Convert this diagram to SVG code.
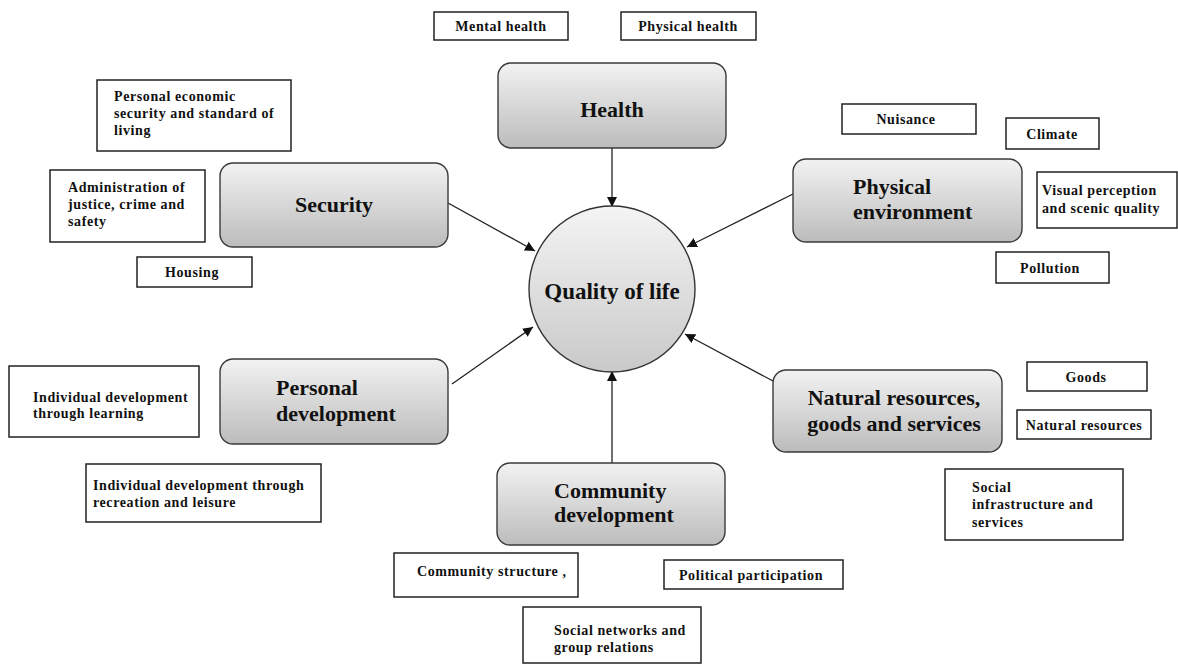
<svg xmlns="http://www.w3.org/2000/svg" width="1178" height="664" viewBox="0 0 1178 664">
<defs>
<linearGradient id="g" x1="0" y1="0" x2="0" y2="1">
<stop offset="0" stop-color="#f2f2f2"/>
<stop offset="1" stop-color="#bcbcbc"/>
</linearGradient>
<linearGradient id="gc" x1="0" y1="0" x2="0" y2="1">
<stop offset="0" stop-color="#f4f4f4"/>
<stop offset="1" stop-color="#c9c9c9"/>
</linearGradient>
<marker id="ah" viewBox="0 0 10 10" refX="10" refY="5" markerWidth="10" markerHeight="10" markerUnits="userSpaceOnUse" orient="auto">
<path d="M0,0 L10,5 L0,10 z" fill="#111"/>
</marker>
</defs>
<style>
.node{fill:url(#g);stroke:#3a3a3a;stroke-width:1.4}
.box{fill:#fff;stroke:#222;stroke-width:1.5}
.big{font-family:"Liberation Serif",serif;font-weight:bold;font-size:22px;fill:#111}
.sm{font-family:"Liberation Serif",serif;font-weight:bold;font-size:14px;letter-spacing:0.6px;fill:#111}
.c{text-anchor:middle}
.conn line{stroke:#222;stroke-width:1.3;marker-end:url(#ah)}
</style>
<rect width="1178" height="664" fill="#fff"/>

<g class="conn" id="connectors">
<line x1="612" y1="148" x2="612" y2="207"/>
<line x1="448" y1="203" x2="535" y2="251"/>
<line x1="793" y1="194" x2="687" y2="247"/>
<line x1="452" y1="384" x2="533" y2="327"/>
<line x1="773" y1="381" x2="685" y2="334"/>
<line x1="612" y1="463" x2="612" y2="371"/>
</g>

<g id="quality">
<circle cx="612" cy="289" r="83" fill="url(#gc)" stroke="#333" stroke-width="1.4"/>
<text class="big c" x="612" y="299" style="font-size:23px">Quality of life</text>
</g>

<g id="health">
<rect class="node" x="498" y="63" width="228" height="85" rx="13"/>
<text class="big c" x="612" y="117">Health</text>
</g>
<g id="mental-health">
<rect class="box" x="434" y="12" width="134" height="28"/>
<text class="sm c" x="501" y="31">Mental health</text>
</g>
<g id="physical-health">
<rect class="box" x="621" y="12" width="135" height="28"/>
<text class="sm c" x="688" y="31">Physical health</text>
</g>

<g id="security">
<rect class="node" x="220" y="163" width="228" height="84" rx="13"/>
<text class="big c" x="334" y="212">Security</text>
</g>
<g id="personal-economic">
<rect class="box" x="97" y="80" width="194" height="71"/>
<text class="sm" x="114" y="101">Personal economic</text>
<text class="sm" x="114" y="118">security and standard of</text>
<text class="sm" x="114" y="135">living</text>
</g>
<g id="administration">
<rect class="box" x="50" y="170" width="155" height="72"/>
<text class="sm" x="68" y="192">Administration of</text>
<text class="sm" x="68" y="209">justice, crime and</text>
<text class="sm" x="68" y="226">safety</text>
</g>
<g id="housing">
<rect class="box" x="137" y="257" width="115" height="30"/>
<text class="sm c" x="192" y="277">Housing</text>
</g>

<g id="physical-environment">
<rect class="node" x="793" y="159" width="229" height="83" rx="13"/>
<text class="big" x="853" y="194">Physical</text>
<text class="big" x="853" y="219">environment</text>
</g>
<g id="nuisance">
<rect class="box" x="842" y="104" width="134" height="30"/>
<text class="sm c" x="906" y="124">Nuisance</text>
</g>
<g id="climate">
<rect class="box" x="1006" y="118" width="93" height="31"/>
<text class="sm c" x="1052" y="139">Climate</text>
</g>
<g id="visual">
<rect class="box" x="1037" y="172" width="140" height="56"/>
<text class="sm" x="1042" y="195">Visual perception</text>
<text class="sm" x="1042" y="213">and scenic quality</text>
</g>
<g id="pollution">
<rect class="box" x="996" y="252" width="113" height="31"/>
<text class="sm c" x="1050" y="273">Pollution</text>
</g>

<g id="personal-development">
<rect class="node" x="220" y="359" width="228" height="85" rx="13"/>
<text class="big" x="276" y="395">Personal</text>
<text class="big" x="276" y="421">development</text>
</g>
<g id="learning">
<rect class="box" x="9" y="366" width="190" height="71"/>
<text class="sm" x="33" y="402">Individual development</text>
<text class="sm" x="33" y="418">through learning</text>
</g>
<g id="recreation">
<rect class="box" x="86" y="464" width="235" height="58"/>
<text class="sm" x="93" y="490">Individual development through</text>
<text class="sm" x="93" y="507">recreation and leisure</text>
</g>

<g id="natural-resources-node">
<rect class="node" x="773" y="370" width="229" height="82" rx="13"/>
<text class="big c" x="894" y="405">Natural resources,</text>
<text class="big c" x="894" y="431">goods and services</text>
</g>
<g id="goods">
<rect class="box" x="1027" y="362" width="120" height="29"/>
<text class="sm c" x="1086" y="382">Goods</text>
</g>
<g id="natural-resources">
<rect class="box" x="1017" y="410" width="134" height="29"/>
<text class="sm c" x="1084" y="430">Natural resources</text>
</g>
<g id="social-infrastructure">
<rect class="box" x="945" y="469" width="178" height="71"/>
<text class="sm" x="972" y="492">Social</text>
<text class="sm" x="972" y="509">infrastructure and</text>
<text class="sm" x="972" y="527">services</text>
</g>

<g id="community-development">
<rect class="node" x="497" y="463" width="228" height="82" rx="13"/>
<text class="big" x="554" y="498">Community</text>
<text class="big" x="554" y="522">development</text>
</g>
<g id="community-structure">
<rect class="box" x="394" y="553" width="184" height="44"/>
<text class="sm" x="417" y="576">Community structure ,</text>
</g>
<g id="political">
<rect class="box" x="664" y="560" width="179" height="29"/>
<text class="sm c" x="751" y="580">Political participation</text>
</g>
<g id="social-networks">
<rect class="box" x="523" y="607" width="178" height="56"/>
<text class="sm" x="554" y="635">Social networks and</text>
<text class="sm" x="554" y="652">group relations</text>
</g>
</svg>
